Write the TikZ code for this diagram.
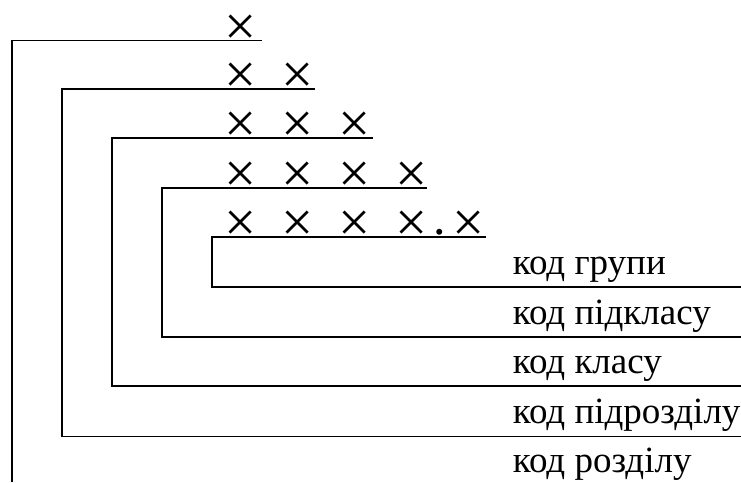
\documentclass[tikz,border=0pt]{standalone}
\usepackage{fontspec}
\newfontfamily\labfont{Liberation Serif}
\newcommand\xcell{\makebox[28.4pt]{\raisebox{-7.5pt}[24pt][0pt]{×}}}
\newcommand\xgap{\hspace*{28.4pt}}
\newcommand\xdot{\makebox[28.4pt]{\fontsize{50}{54}\selectfont\raisebox{0pt}[6pt][0pt]{.}}}
\begin{document}
\begin{tikzpicture}[x=1pt,y=-1pt,
  bracket/.style={line width=1.8pt, draw=black},
  xrow/.style={anchor=base west, inner sep=0pt, font=\labfont\fontsize{57}{60}\selectfont},
  lab/.style={anchor=base west, inner sep=0pt, font=\labfont\fontsize{37}{40}\selectfont}]
\useasboundingbox (0,0) rectangle (741,482);
% rows of crosses
\node[xrow] (r1) at (226.6,37.5) {\xcell};
\node[xrow] (r2) at (226.6,86) {\xcell\xgap\xcell};
\node[xrow] (r3) at (226.6,135) {\xcell\xgap\xcell\xgap\xcell};
\node[xrow] (r4) at (226.6,184.7) {\xcell\xgap\xcell\xgap\xcell\xgap\xcell};
\node[xrow] (r5) at (226.6,234) {\xcell\xgap\xcell\xgap\xcell\xgap\xcell\xdot\xcell};
% labels
\node[lab] (l1) at (512.7,274.3) {код групи};
\node[lab] (l2) at (512.7,324) {код підкласу};
\node[lab] (l3) at (512.7,373.3) {код класу};
\node[lab] (l4) at (512.7,423.5) {код підрозділу};
\node[lab] (l5) at (512.7,472.7) {код розділу};
% corner coordinates
\coordinate (a0) at (12,482);   \coordinate (a1) at (12,40.5);   \coordinate (a2) at (262,40.5);
\coordinate (b1) at (62,89);    \coordinate (b2) at (315,89);    \coordinate (b3) at (62,436.5);  \coordinate (b4) at (741,436.5);
\coordinate (c1) at (112,138);  \coordinate (c2) at (372.7,138); \coordinate (c3) at (112,386);   \coordinate (c4) at (741,386);
\coordinate (d1) at (162,187.7);\coordinate (d2) at (426.7,187.7);\coordinate (d3) at (162,336.7);\coordinate (d4) at (741,336.7);
\coordinate (e1) at (212,237);  \coordinate (e2) at (485.7,237); \coordinate (e3) at (212,287.3); \coordinate (e4) at (741,287.3);
\draw[bracket] (a0) -- (a1) -- (a2);
\draw[bracket] (b2) -- (b1) -- (b3) -- (b4);
\draw[bracket] (c2) -- (c1) -- (c3) -- (c4);
\draw[bracket] (d2) -- (d1) -- (d3) -- (d4);
\draw[bracket] (e2) -- (e1) -- (e3) -- (e4);
\end{tikzpicture}
\end{document}
